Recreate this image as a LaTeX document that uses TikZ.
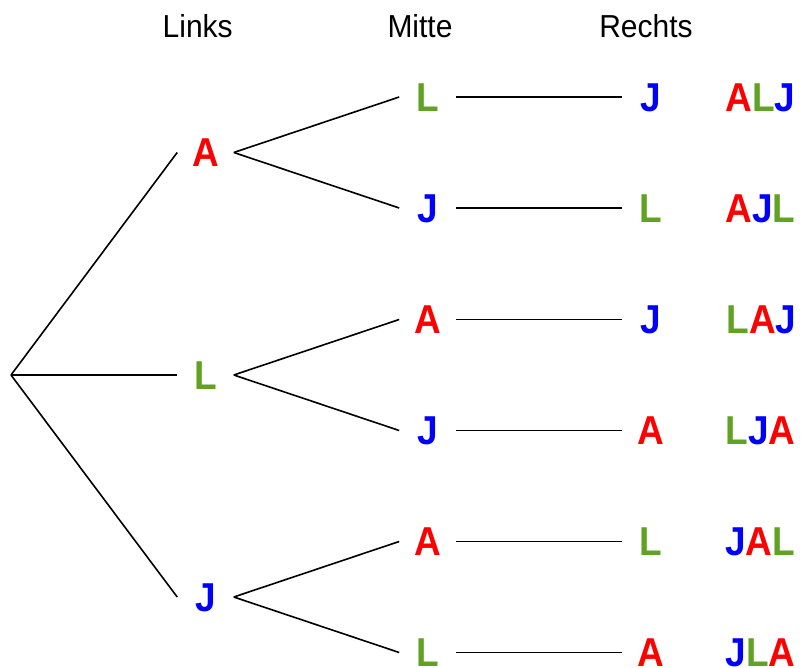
\documentclass[tikz,border=0pt]{standalone}
\usepackage{fontspec}
\usepackage{graphicx}
\setmainfont{Liberation Sans}
\definecolor{cA}{RGB}{255,0,0}
\definecolor{cL}{RGB}{98,162,35}
\definecolor{cJ}{RGB}{0,0,255}
\newcommand{\ltrA}{\textcolor{cA}{A}}
\newcommand{\ltrL}{\textcolor{cL}{L}}
\newcommand{\ltrJ}{\textcolor{cJ}{J}}
\newcommand{\tallbox}[1]{\scalebox{1}[1.09]{#1}}
\newcommand{\headbox}[1]{\scalebox{1}[1.06]{#1}}
\begin{document}
\begin{tikzpicture}[x=1pt,y=-1pt,line width=1.6pt,
  letter/.style={inner sep=0pt,minimum width=55pt,text height=28.9pt,text depth=0pt,
    font=\fontsize{37}{40}\selectfont\bfseries},
  result/.style={inner sep=0pt,text height=28.9pt,text depth=0pt,
    font=\fontsize{37}{40}\selectfont\bfseries},
  head/.style={inner sep=0pt,text height=22.7pt,text depth=0pt,
    font=\fontsize{30}{32}\selectfont}]
\useasboundingbox (0,0) rectangle (805,668);
% headers
\node[head] (hL) at (197.7,26.3) {\headbox{Links}};
\node[head] (hM) at (420,26.3) {\headbox{Mitte}};
\node[head] (hR) at (646,26.3) {\headbox{Rechts}};
% root
\coordinate (r) at (11,375);
% level 1
\node[letter] (a) at (205.5,152.5) {\tallbox{\ltrA}};
\node[letter] (l) at (205.5,375) {\tallbox{\ltrL}};
\node[letter] (j) at (205.5,597) {\tallbox{\ltrJ}};
% level 2
\node[letter] (aL) at (427.5,97) {\tallbox{\ltrL}};
\node[letter] (aJ) at (427.5,208) {\tallbox{\ltrJ}};
\node[letter] (lA) at (427.5,319.5) {\tallbox{\ltrA}};
\node[letter] (lJ) at (427.5,430.5) {\tallbox{\ltrJ}};
\node[letter] (jA) at (427.5,541.5) {\tallbox{\ltrA}};
\node[letter] (jL) at (427.5,652.5) {\tallbox{\ltrL}};
% level 3
\node[letter] (aLJ) at (650.5,97) {\tallbox{\ltrJ}};
\node[letter] (aJL) at (650.5,208) {\tallbox{\ltrL}};
\node[letter] (lAJ) at (650.5,319.5) {\tallbox{\ltrJ}};
\node[letter] (lJA) at (650.5,430.5) {\tallbox{\ltrA}};
\node[letter] (jAL) at (650.5,541.5) {\tallbox{\ltrL}};
\node[letter] (jLA) at (650.5,652.5) {\tallbox{\ltrA}};
% results
\node[result] (rALJ) at (760.5,97) {\tallbox{\ltrA\ltrL\ltrJ}};
\node[result] (rAJL) at (760.5,208) {\tallbox{\ltrA\ltrJ\ltrL}};
\node[result] (rLAJ) at (761.5,319.5) {\tallbox{\ltrL\ltrA\ltrJ}};
\node[result] (rLJA) at (760.5,430.5) {\tallbox{\ltrL\ltrJ\ltrA}};
\node[result] (rJAL) at (760,541.5) {\tallbox{\ltrJ\ltrA\ltrL}};
\node[result] (rJLA) at (760.5,652.5) {\tallbox{\ltrJ\ltrL\ltrA}};
% connectors
\draw (r) -- (a.west);
\draw (r) -- (l.west);
\draw (r) -- (j.west);
\draw (a.east) -- (aL.west);
\draw (a.east) -- (aJ.west);
\draw (l.east) -- (lA.west);
\draw (l.east) -- (lJ.west);
\draw (j.east) -- (jA.west);
\draw (j.east) -- (jL.west);
\draw (aL.east) -- (aLJ.west);
\draw (aJ.east) -- (aJL.west);
\draw (lA.east) -- (lAJ.west);
\draw (lJ.east) -- (lJA.west);
\draw (jA.east) -- (jAL.west);
\draw (jL.east) -- (jLA.west);
\end{tikzpicture}
\end{document}
